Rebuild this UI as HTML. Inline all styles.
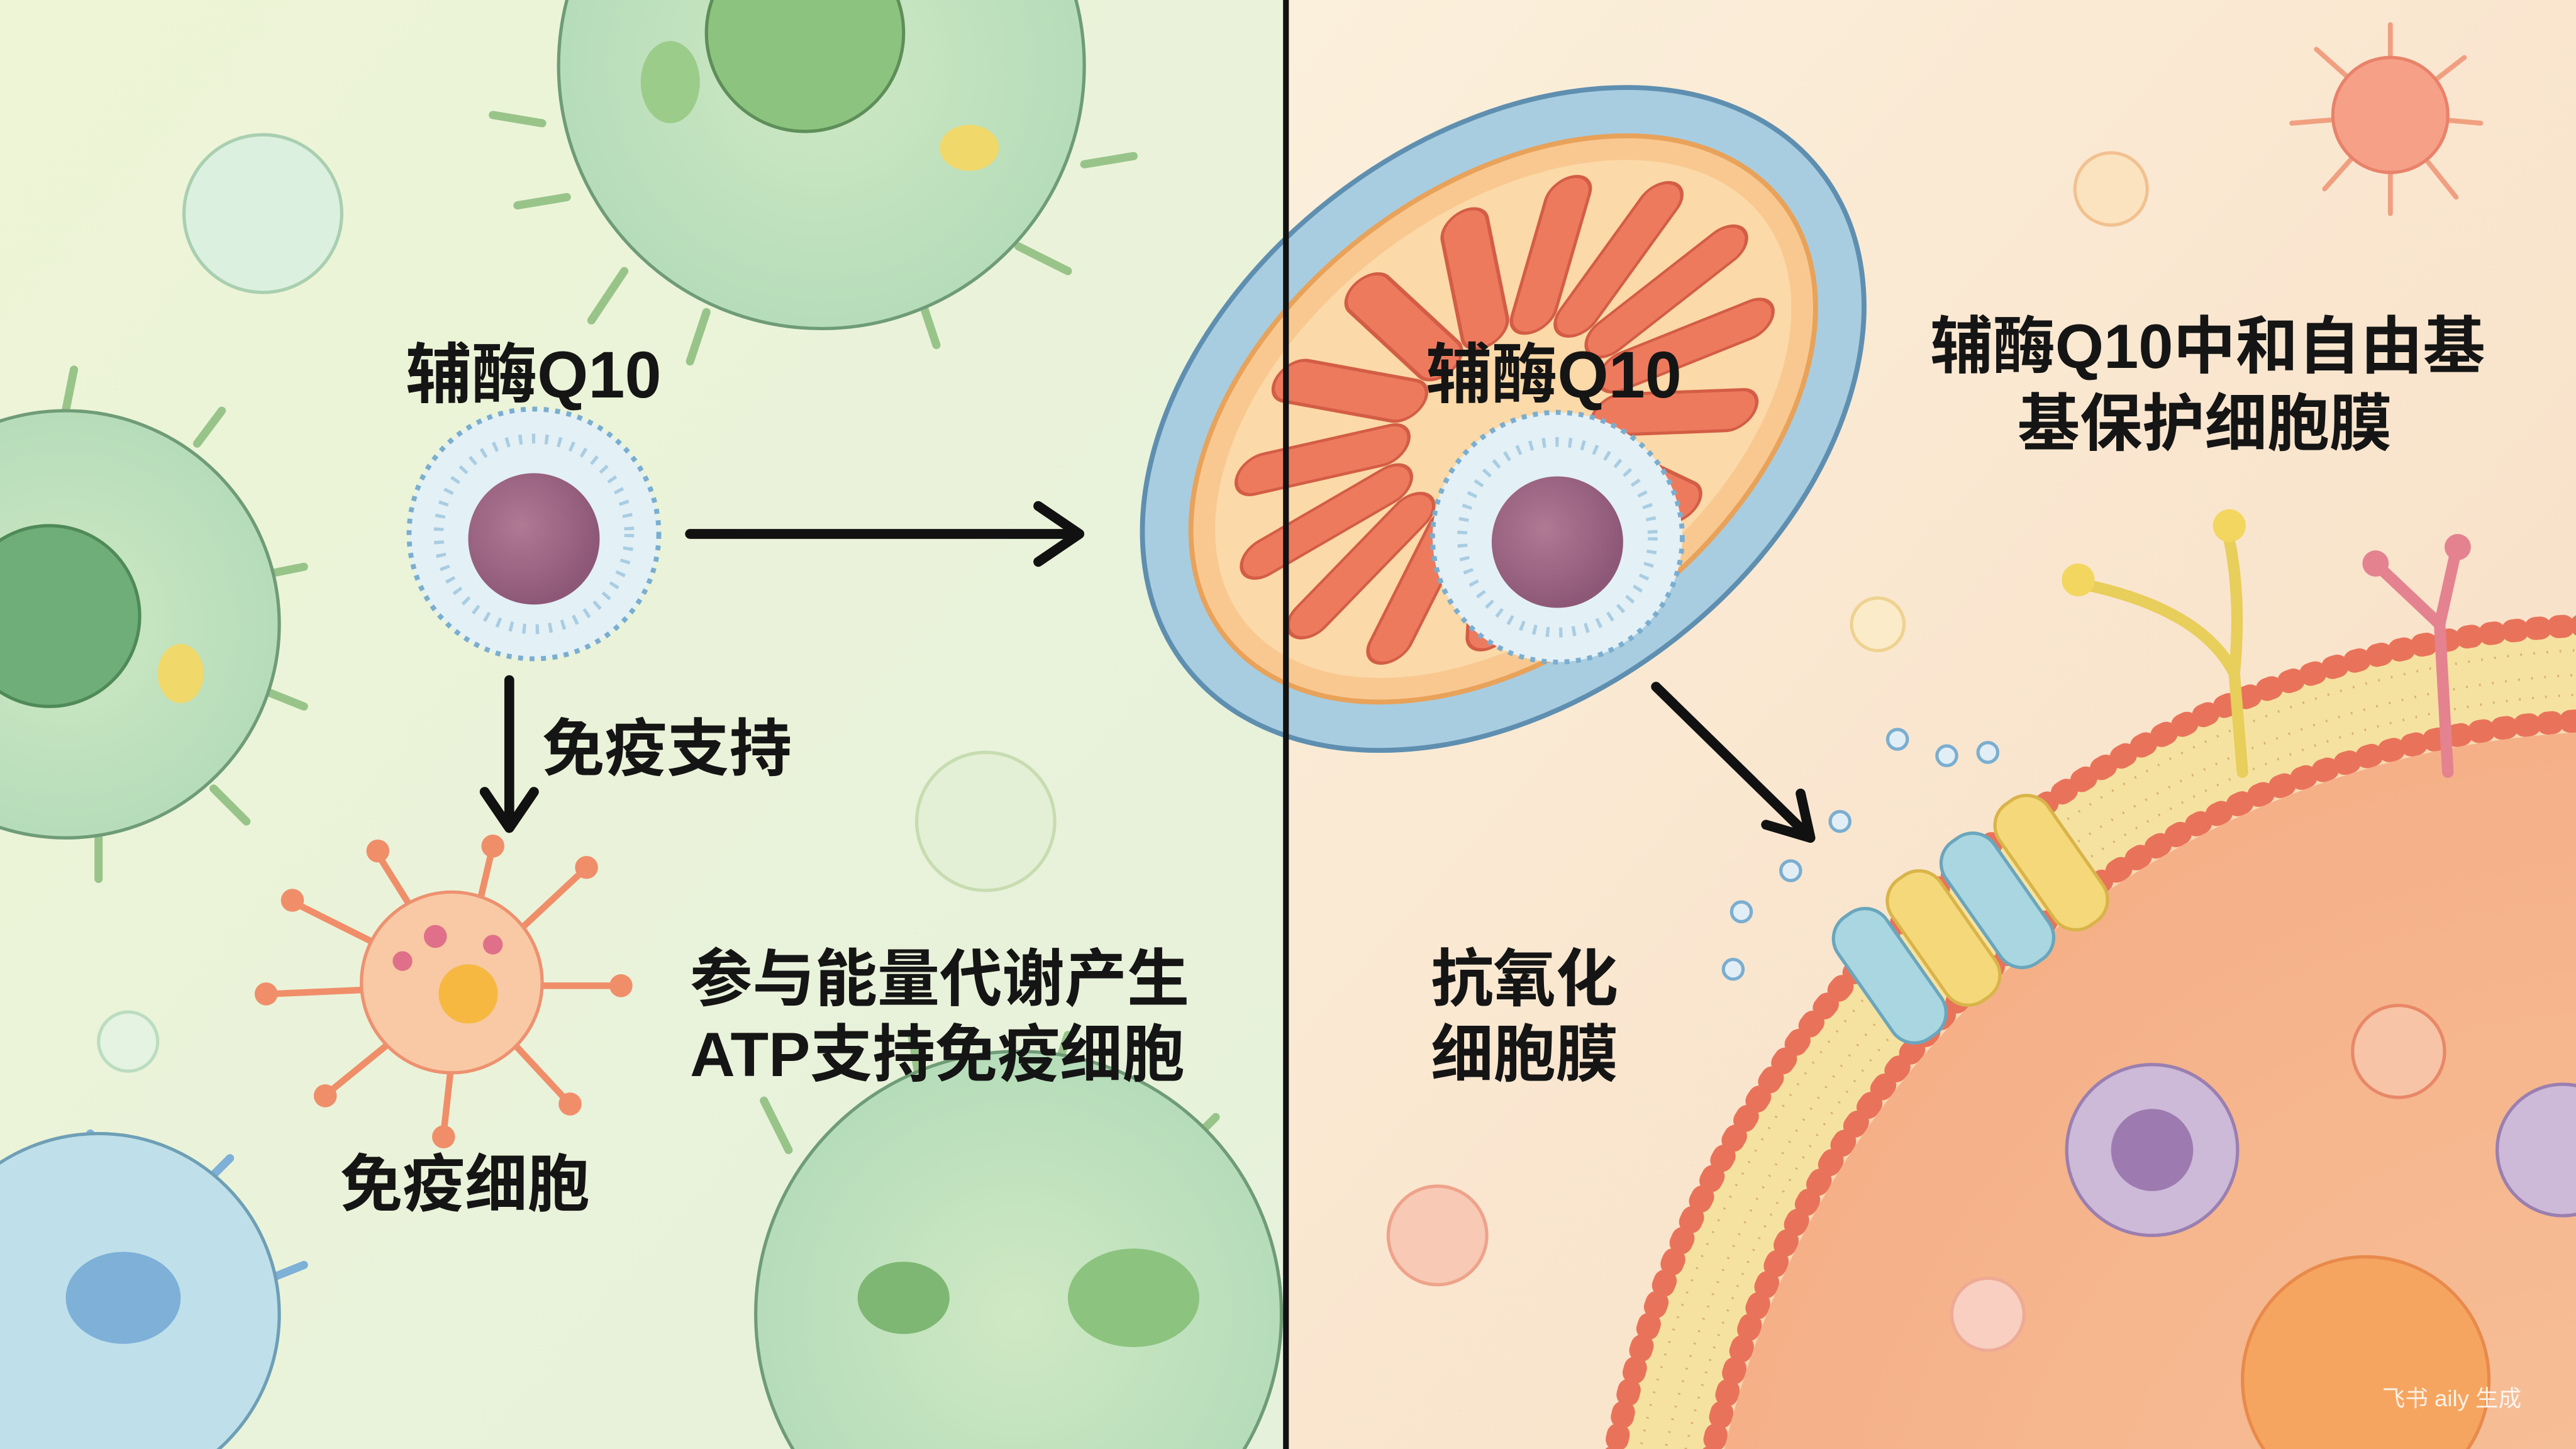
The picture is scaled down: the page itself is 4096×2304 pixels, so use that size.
<!DOCTYPE html>
<html><head><meta charset="utf-8">
<style>
html,body{margin:0;padding:0;width:4096px;height:2304px;overflow:hidden;background:#f3eedb}
svg{display:block;overflow:hidden}
text{font-family:"Liberation Sans","Noto Sans CJK SC",sans-serif;font-weight:700;fill:#151515}
</style></head>
<body>
<svg width="4096" height="2304" viewBox="0 0 1568 882" xmlns="http://www.w3.org/2000/svg">
<defs>
<linearGradient id="lbg" x1="0" y1="0" x2="1" y2="1">
<stop offset="0" stop-color="#eef5d6"/><stop offset="1" stop-color="#e6f1dc"/></linearGradient>
<linearGradient id="rbg" x1="0" y1="0" x2="1" y2="1">
<stop offset="0" stop-color="#fbf0dc"/><stop offset="1" stop-color="#f8dcc2"/></linearGradient>
<radialGradient id="gcell" cx="0.5" cy="0.5" r="0.5">
<stop offset="0" stop-color="#cfe9c4"/><stop offset="1" stop-color="#b6dcb9"/></radialGradient>
<radialGradient id="core" cx="0.4" cy="0.4" r="0.6">
<stop offset="0" stop-color="#b07a95"/><stop offset="1" stop-color="#8d5777"/></radialGradient>
<radialGradient id="inner" cx="0.5" cy="0.5" r="0.5">
<stop offset="0" stop-color="#f7c29a"/><stop offset="1" stop-color="#f5b088"/></radialGradient>
</defs>
<rect x="0" y="0" width="782" height="882" fill="url(#lbg)"/>
<rect x="782" y="0" width="786" height="882" fill="url(#rbg)"/>

<!-- left cells -->
<g stroke="#98c48a" stroke-width="5" stroke-linecap="round" fill="none">
<path d="M330 75 L300 70 M345 120 L315 125 M380 165 L360 195 M430 190 L420 220 M560 180 L570 210 M620 150 L650 165 M660 100 L690 95"/>
<path d="M40 250 L45 225 M120 270 L135 250 M160 350 L185 345 M160 420 L185 430 M130 480 L150 500 M60 510 L60 535"/>
<path d="M480 700 L465 670 M560 660 L555 630 M640 660 L650 630 M720 700 L740 680"/>
</g>
<circle cx="500" cy="40" r="160" fill="url(#gcell)" stroke="#6f9c77" stroke-width="2"/>
<circle cx="490" cy="20" r="60" fill="#8cc47f" stroke="#5e8f5a" stroke-width="2"/>
<ellipse cx="408" cy="50" rx="18" ry="25" fill="#9ccc8a"/>
<ellipse cx="590" cy="90" rx="18" ry="14" fill="#f0d86a"/>
<circle cx="40" cy="380" r="130" fill="url(#gcell)" stroke="#6f9c77" stroke-width="2"/>
<circle cx="30" cy="375" r="55" fill="#6fae78" stroke="#4f8a58" stroke-width="2"/>
<ellipse cx="110" cy="410" rx="14" ry="18" fill="#f0d86a"/>
<circle cx="620" cy="800" r="160" fill="url(#gcell)" stroke="#6f9c77" stroke-width="2"/>
<ellipse cx="690" cy="790" rx="40" ry="30" fill="#8cc47f"/>
<ellipse cx="550" cy="790" rx="28" ry="22" fill="#7eb773"/>
<g stroke="#7eb0d8" stroke-width="5" stroke-linecap="round"><path d="M60 720 L55 690 M120 725 L140 705 M160 780 L185 770"/></g>
<circle cx="60" cy="800" r="110" fill="#bfe0ea" stroke="#6e9fb6" stroke-width="2"/>
<ellipse cx="75" cy="790" rx="35" ry="28" fill="#7eb0d8"/>
<circle cx="160" cy="130" r="48" fill="#dcf0df" stroke="#a9cfb0" stroke-width="2"/>
<circle cx="600" cy="500" r="42" fill="#e4f0d5" stroke="#c7dcb0" stroke-width="2"/>
<circle cx="78" cy="634" r="18" fill="#e4f3e2" stroke="#bcdcc0" stroke-width="2"/>

<!-- immune cell -->
<g stroke="#f08e6a" stroke-width="4" stroke-linecap="round">
<path d="M280 600 L230 520 M280 600 L300 515 M280 600 L355 530 M280 600 L375 600 M280 600 L345 670 M280 600 L270 690 M280 600 L200 665 M280 600 L165 605 M280 600 L180 550"/>
</g>
<g fill="#f08e6a"><circle cx="230" cy="518" r="7"/><circle cx="300" cy="515" r="7"/><circle cx="357" cy="528" r="7"/><circle cx="378" cy="600" r="7"/><circle cx="347" cy="672" r="7"/><circle cx="270" cy="692" r="7"/><circle cx="198" cy="667" r="7"/><circle cx="162" cy="605" r="7"/><circle cx="178" cy="548" r="7"/></g>
<circle cx="275" cy="598" r="55" fill="#f8c9a4" stroke="#ee9170" stroke-width="2"/>
<circle cx="285" cy="605" r="18" fill="#f6b840"/>
<circle cx="265" cy="570" r="7" fill="#e0708a"/><circle cx="245" cy="585" r="6" fill="#e0708a"/><circle cx="300" cy="575" r="6" fill="#e0708a"/>

<!-- Q10 left -->
<circle cx="325" cy="325" r="76" fill="#e3f0f6" stroke="#7aaed0" stroke-width="3" stroke-dasharray="3 4"/>
<circle cx="325" cy="325" r="58" fill="none" stroke="#a9cde2" stroke-width="6" stroke-dasharray="2 6"/>
<circle cx="325" cy="328" r="40" fill="url(#core)"/>

<!-- arrows -->
<g stroke="#111" stroke-width="6" fill="none" stroke-linecap="round" stroke-linejoin="round">
<path d="M420 325 L655 325 M632 308 L657 325 L632 342"/>
<path d="M310 414 L310 502 M295 482 L310 504 L325 482"/>
<path d="M1008 418 L1100 508 M1075 502 L1102 510 L1096 483"/>
</g>

<!-- right: membrane cell -->
<circle cx="1600" cy="1010" r="630" fill="#f9d8b0"/>
<circle cx="1600" cy="1010" r="601" fill="none" stroke="#f6e2a0" stroke-width="58"/>
<g fill="none" stroke="#d9b070" stroke-width="1.5" stroke-dasharray="1 7">
<circle cx="1600" cy="1010" r="615"/><circle cx="1600" cy="1010" r="600"/><circle cx="1600" cy="1010" r="588"/>
</g>
<circle cx="1600" cy="1010" r="565" fill="url(#inner)"/>
<circle cx="1600" cy="1010" r="630" fill="none" stroke="#e9735a" stroke-width="14" stroke-dasharray="3 11" stroke-linecap="round"/>
<circle cx="1600" cy="1010" r="572" fill="none" stroke="#e9735a" stroke-width="14" stroke-dasharray="3 11" stroke-linecap="round"/>
<g fill="#f8c4a7" stroke="#e88868" stroke-width="2"><circle cx="1460" cy="640" r="28"/></g>
<circle cx="1310" cy="700" r="52" fill="#cdb9d8" stroke="#9a7fb0" stroke-width="2"/>
<circle cx="1310" cy="700" r="25" fill="#9d7bb0"/>
<circle cx="1440" cy="840" r="75" fill="#f6a560" stroke="#e88a4c" stroke-width="2"/>
<circle cx="1560" cy="700" r="40" fill="#cdb9d8" stroke="#9a7fb0" stroke-width="2"/>
<!-- protein channels -->
<g transform="rotate(-35 1190 560)">
<rect x="1120" y="520" width="36" height="90" rx="16" fill="#a9d6e0" stroke="#6aa6bd" stroke-width="2"/>
<rect x="1160" y="520" width="36" height="90" rx="16" fill="#f5d87a" stroke="#d9b449" stroke-width="2"/>
<rect x="1200" y="520" width="36" height="90" rx="16" fill="#a9d6e0" stroke="#6aa6bd" stroke-width="2"/>
<rect x="1240" y="520" width="36" height="90" rx="16" fill="#f5d87a" stroke="#d9b449" stroke-width="2"/>
</g>
<g stroke="#e8ce5a" stroke-width="7" fill="none" stroke-linecap="round"><path d="M1365 470 L1360 410 Q1340 370 1265 355 M1360 410 Q1365 360 1355 320"/></g>
<circle cx="1265" cy="353" r="10" fill="#f2d660"/><circle cx="1357" cy="320" r="10" fill="#f2d660"/>
<g stroke="#e48290" stroke-width="7" fill="none" stroke-linecap="round"><path d="M1490 470 L1485 380 M1485 380 L1448 345 M1485 380 L1495 335"/></g>
<circle cx="1446" cy="343" r="8" fill="#e48290"/><circle cx="1496" cy="333" r="8" fill="#e48290"/>
<g stroke="#7aaed0" stroke-width="2" fill="#e2eef5"><circle cx="1155" cy="450" r="6"/><circle cx="1185" cy="460" r="6"/><circle cx="1210" cy="458" r="6"/><circle cx="1120" cy="500" r="6"/><circle cx="1090" cy="530" r="6"/><circle cx="1060" cy="555" r="6"/><circle cx="1055" cy="590" r="6"/></g>

<!-- mitochondrion -->
<g transform="rotate(-38 915 255)">
<ellipse cx="915" cy="255" rx="245" ry="170" fill="#a8cde0" stroke="#5f8fb0" stroke-width="3"/>
<ellipse cx="915" cy="255" rx="215" ry="140" fill="#f9c890" stroke="#e8a25a" stroke-width="3"/>
<ellipse cx="915" cy="255" rx="200" ry="125" fill="#fbd9a8"/>
<g transform="translate(915 255) scale(1.2 0.78)" fill="#ee7a5e" stroke="#d35d45" stroke-width="2">
<rect x="55" y="-13" width="100" height="26" rx="13" transform="rotate(0)"/>
<rect x="55" y="-13" width="100" height="26" rx="13" transform="rotate(24)"/>
<rect x="55" y="-13" width="100" height="26" rx="13" transform="rotate(48)"/>
<rect x="55" y="-13" width="100" height="26" rx="13" transform="rotate(72)"/>
<rect x="55" y="-13" width="100" height="26" rx="13" transform="rotate(96)"/>
<rect x="55" y="-13" width="100" height="26" rx="13" transform="rotate(120)"/>
<rect x="55" y="-13" width="100" height="26" rx="13" transform="rotate(144)"/>
<rect x="55" y="-13" width="100" height="26" rx="13" transform="rotate(168)"/>
<rect x="55" y="-13" width="100" height="26" rx="13" transform="rotate(192)"/>
<rect x="55" y="-13" width="100" height="26" rx="13" transform="rotate(216)"/>
<rect x="55" y="-13" width="100" height="26" rx="13" transform="rotate(240)"/>
<rect x="55" y="-13" width="100" height="26" rx="13" transform="rotate(264)"/>
<rect x="55" y="-13" width="100" height="26" rx="13" transform="rotate(288)"/>
<rect x="55" y="-13" width="100" height="26" rx="13" transform="rotate(312)"/>
<rect x="55" y="-13" width="100" height="26" rx="13" transform="rotate(336)"/>
</g>
</g>
<circle cx="948" cy="327" r="76" fill="#e3f0f6" stroke="#7aaed0" stroke-width="3" stroke-dasharray="3 4"/>
<circle cx="948" cy="327" r="58" fill="none" stroke="#a9cde2" stroke-width="6" stroke-dasharray="2 6"/>
<circle cx="948" cy="330" r="40" fill="url(#core)"/>

<!-- small right circles -->
<g stroke="#f0a080" stroke-width="3" stroke-linecap="round"><path d="M1455 70 L1455 15 M1455 70 L1500 35 M1455 70 L1510 75 M1455 70 L1495 120 M1455 70 L1455 130 M1455 70 L1415 115 M1455 70 L1395 75 M1455 70 L1410 30"/></g>
<circle cx="1455" cy="70" r="35" fill="#f6a088" stroke="#e9826a" stroke-width="2"/>
<circle cx="1285" cy="115" r="22" fill="#fbe3c0" stroke="#f2c190" stroke-width="2"/>
<circle cx="1143" cy="380" r="16" fill="#fbebc8" stroke="#eed290" stroke-width="2"/>
<circle cx="875" cy="752" r="30" fill="#f8c9b5" stroke="#eea38a" stroke-width="2"/>
<circle cx="1210" cy="800" r="22" fill="#f8cfc0" stroke="#eeaa95" stroke-width="2"/>

<!-- divider -->
<rect x="781" y="0" width="3.5" height="882" fill="#111"/>

<!-- text -->
<text x="247" y="242" font-size="40">辅酶Q10</text>
<text x="330" y="469" font-size="38">免疫支持</text>
<text x="207" y="734" font-size="38">免疫细胞</text>
<text x="420" y="609" font-size="38">参与能量代谢产生</text>
<text x="420" y="655" font-size="38">ATP支持免疫细胞</text>
<text x="868" y="242" font-size="40">辅酶Q10</text>
<text x="1175" y="224" font-size="38">辅酶Q10中和自由基</text>
<text x="1228" y="271" font-size="38">基保护细胞膜</text>
<text x="871" y="609" font-size="38">抗氧化</text>
<text x="871" y="655" font-size="38">细胞膜</text>
<text x="1450" y="856" font-size="14" style="font-weight:400;fill:#ffffff;fill-opacity:0.85">飞书 aily 生成</text>
</svg>
</body></html>
